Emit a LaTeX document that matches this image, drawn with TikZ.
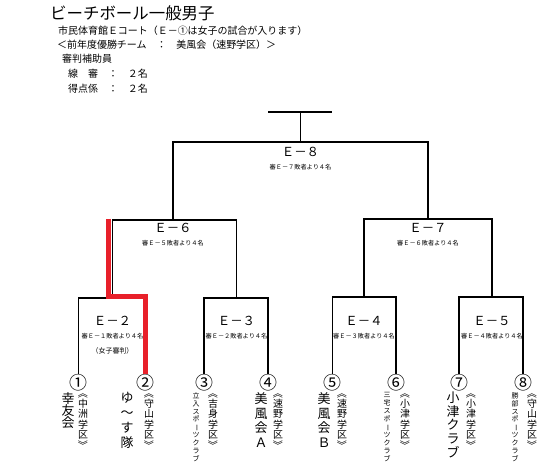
\documentclass[tikz,border=0pt]{standalone}
\usepackage{fontspec}
\usepackage{graphicx}
\setmainfont{Noto Sans CJK JP}
\usetikzlibrary{calc}
\tikzset{
  bracket/.style={line width=1.2bp},
  winner/.style={line width=5bp, draw=winred},
  header/.style={inner sep=0pt, anchor=west, font=\fontsize{10}{10}\selectfont},
  match/.style={inner sep=0pt, font=\fontsize{12.5}{12.5}\selectfont},
  referee/.style={inner sep=0pt, font=\fontsize{6.2}{6.2}\selectfont},
  seed/.style={inner sep=0pt, font=\fontsize{18}{18}\selectfont},
  team/.style={inner sep=0pt, anchor=north, align=center, font=\fontsize{13}{15}\selectfont},
  school/.style={inner sep=0pt, anchor=north, align=center, font=\fontsize{10}{10.5}\selectfont},
  club/.style={inner sep=0pt, anchor=north, align=center, font=\fontsize{7}{8}\selectfont}
}
% upright marks for vertical writing
\newcommand{\vlong}{\rotatebox[origin=c]{-90}{ー}}
\newcommand{\vopen}{\rotatebox[origin=c]{-90}{《}}
\newcommand{\vclose}{\rotatebox[origin=c]{-90}{》}}
\definecolor{winred}{HTML}{E8202A}

\begin{document}
\begin{tikzpicture}[x=1bp, y=-1bp]
  \useasboundingbox (0,0) rectangle (542,468);

  % heading
  \node[header, font=\fontsize{16.5}{16.5}\selectfont] (title) at (50,13) {ビーチボール一般男子};
  \node[header] (court) at (58,31) {市民体育館Ｅコート（Ｅ－①は女子の試合が入ります）};
  \node[header] (champ) at (57,45) {＜前年度優勝チーム　：　美風会（速野学区）＞};
  \node[header] (aides) at (62,59) {審判補助員};
  \node[header] (linesmen) at (68,74) {線　審　：　２名};
  \node[header] (scorers) at (68,89) {得点係　：　２名};

  % tops of the brackets
  \foreach \m/\x/\y in {2/112.5/298, 3/236.5/298, 4/364/297, 5/492/297,
                        6/173/220, 7/428/219, 8/300.5/142}{
    \coordinate (m\m) at (\x,\y);
  }
  \coordinate (final) at (300.5,112);
  \coordinate (finalL) at (268,112);
  \coordinate (finalR) at (332,112);

  % match names and referees
  \foreach \m/\y/\d/\r in {8/152/８/７, 6/228/６/５, 7/228/７/６,
                           2/321/２/１, 3/321/３/２, 4/321/４/３, 5/321/５/４}{
    \node[match] (e\m) at (m\m |- 0,\y) {Ｅ－\d};
    \node[referee] (r\m) at ($(e\m)+(0,15)$) {審Ｅ－\r{}敗者より４名};
  }
  \node[referee, font=\fontsize{7}{7}\selectfont] (women) at ($(r2)+(0,15)$) {（女子審判）};

  % seeds
  \foreach \i/\x/\c in {1/78.5/①, 2/145/②, 3/204/③, 4/268/④,
                        5/332.5/⑤, 6/396/⑥, 7/459/⑦, 8/523/⑧}{
    \node[seed] (p\i) at (\x,383) {\c};
  }

  % brackets
  \draw[bracket] (p1.north) |- (m2) -| (p2.north);
  \draw[bracket] (p3.north) |- (m3) -| (p4.north);
  \draw[bracket] (p5.north) |- (m4) -| (p6.north);
  \draw[bracket] (p7.north) |- (m5) -| (p8.north);
  \draw[bracket] (m2) |- (m6) -| (m3);
  \draw[bracket] (m4) |- (m7) -| (m5);
  \draw[bracket] (m6) |- (m8) -| (m7);
  \draw[bracket] (m8) -- (final);
  \draw[bracket] (finalL) -- (finalR);

  % way of the winner
  \coordinate (w1) at (108,219);
  \coordinate (w2) at (145,296);
  \draw[winner] (w1) |- (w2) -- (w2 |- p2.north);

  % teams
  \node[team, font=\fontsize{13}{12.5}\selectfont] (t1) at (68,392) {幸\\友\\会};
  \node[team] (t2) at (127,392) {ゆ\\～\\す\\隊};
  \node[club] (t3) at (196,392) {立\\入\\ス\\ポ\\\vlong\\ツ\\ク\\ラ\\ブ};
  \node[team] (t4) at (261,392) {美\\風\\会\\Ａ};
  \node[team] (t5) at (324,392) {美\\風\\会\\Ｂ};
  \node[club] (t6) at (387,392) {三\\宅\\ス\\ポ\\\vlong\\ツ\\ク\\ラ\\ブ};
  \node[team, font=\fontsize{13}{13.6}\selectfont] (t7) at (453,392) {小\\津\\ク\\ラ\\ブ};
  \node[club] (t8) at (515,392) {勝\\部\\ス\\ポ\\\vlong\\ツ\\ク\\ラ\\ブ};

  % school districts
  \foreach \i/\x/\s/\t in {1/83/中/洲, 2/149/守/山, 3/213/吉/身, 4/278/速/野,
                           5/342/速/野, 6/405/小/津, 7/471/小/津, 8/532/守/山}{
    \node[school] (s\i) at (\x,388) {\vopen\\ \s\\ \t\\ 学\\ 区\\ \vclose};
  }
\end{tikzpicture}
\end{document}
